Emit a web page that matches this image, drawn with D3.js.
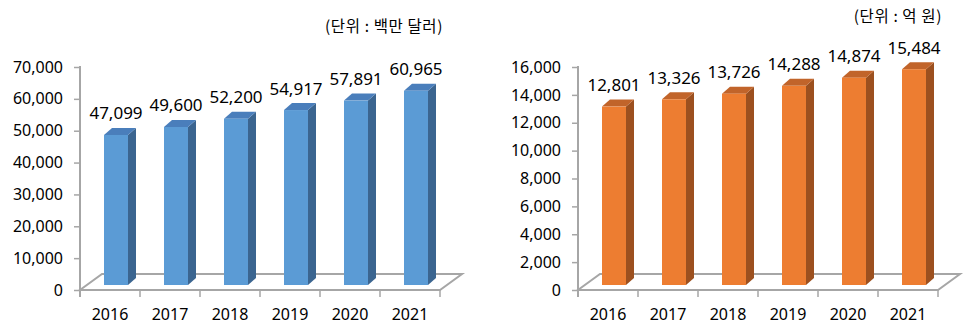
<!DOCTYPE html>
<html>
<head>
<meta charset="utf-8">
<script src="https://cdn.jsdelivr.net/npm/d3@7"></script>
<style>
  html, body { margin: 0; padding: 0; background: #fff; }
  svg { display: block; }
  text { font-family: "Noto Sans", "Open Sans", sans-serif; fill: #000; }
  .unit { font-family: "Noto Sans CJK KR", "Noto Sans", sans-serif; }
</style>
</head>
<body>
<svg id="chart" width="968" height="330"></svg>
<script>
// Years shown on both panels
const years = ["2016", "2017", "2018", "2019", "2020", "2021"];

// Left panel: values in USD millions
const usdValues = [47099, 49600, 52200, 54917, 57891, 60965];
const usdTicks = [0, 10000, 20000, 30000, 40000, 50000, 60000, 70000];
const usdUnit = "(단위 : 백만 달러)";

// Right panel: values in 100 million KRW
const krwValues = [12801, 13326, 13726, 14288, 14874, 15484];
const krwTicks = [0, 2000, 4000, 6000, 8000, 10000, 12000, 14000, 16000];
const krwUnit = "(단위 : 억 원)";

const svg = d3.select("#chart");
const fmt = d3.format(",");

function drawPanel(cfg) {
  const g = svg.append("g");
  const plotW = 360, yBottom = 290, yTop = 67;
  const floorDx = 22, floorDy = -16;     // floor depth offset
  const barDx = 8, barDy = -7;            // bar depth offset
  const barLift = 5;                      // bars stand slightly behind the front edge

  const x = d3.scaleBand().domain(years).range([cfg.left, cfg.left + plotW]);
  const y = d3.scaleLinear().domain([0, d3.max(cfg.ticks)]).range([yBottom, yTop]);
  const bw = x.bandwidth() * 0.4;

  // floor
  const fl = [
    [cfg.left, y(0)], [cfg.left + plotW, y(0)],
    [cfg.left + plotW + floorDx, y(0) + floorDy], [cfg.left + floorDx, y(0) + floorDy]
  ];
  g.append("polygon")
    .attr("points", fl.map(p => p.join(",")).join(" "))
    .attr("fill", "#fff").attr("stroke", "#a6a6a6").attr("stroke-width", 2)
    .attr("stroke-linejoin", "miter");

  // y axis
  const yAxis = d3.axisLeft(y).tickValues(cfg.ticks).tickFormat(fmt).tickSize(6).tickPadding(11);
  const ya = g.append("g").attr("transform", `translate(${cfg.left},0)`).call(yAxis);
  ya.select(".domain").remove();
  ya.selectAll(".tick line").attr("stroke", "#a6a6a6").attr("stroke-width", 1.5);
  ya.selectAll(".tick text").style("font-size", "16px").attr("fill", "#000");
  g.append("line")
    .attr("x1", cfg.left).attr("x2", cfg.left)
    .attr("y1", yTop - 1).attr("y2", yBottom + 7)
    .attr("stroke", "#a6a6a6").attr("stroke-width", 2);

  // category ticks on band boundaries
  const bounds = years.map(d => x(d)).concat([cfg.left + plotW]);
  g.selectAll(".ctick").data(bounds).enter().append("line")
    .attr("x1", d => d).attr("x2", d => d)
    .attr("y1", yBottom).attr("y2", yBottom + 7)
    .attr("stroke", "#a6a6a6").attr("stroke-width", 1.5);

  // year labels
  g.selectAll(".year").data(years).enter().append("text")
    .attr("x", d => x(d) + x.bandwidth() / 2)
    .attr("y", 314)
    .attr("text-anchor", "middle").attr("dominant-baseline", "central")
    .style("font-size", "16px")
    .text(d => d);

  // 3D bars
  const bars = g.selectAll(".bar").data(cfg.values.map((v, i) => ({ v, year: years[i] })))
    .enter().append("g");
  bars.each(function (d) {
    const b = d3.select(this);
    const x0 = x(d.year) + x.bandwidth() * 0.4;
    const x1 = x0 + bw;
    const yb = y(0) - barLift;
    const yt = y(d.v) - barLift;
    // side face
    b.append("polygon")
      .attr("points", [[x1, yb], [x1, yt], [x1 + barDx, yt + barDy], [x1 + barDx, yb + barDy]].map(p => p.join(",")).join(" "))
      .attr("fill", cfg.side);
    // top face
    b.append("polygon")
      .attr("points", [[x0, yt], [x1, yt], [x1 + barDx, yt + barDy], [x0 + barDx, yt + barDy]].map(p => p.join(",")).join(" "))
      .attr("fill", cfg.top);
    // front face
    b.append("rect")
      .attr("x", x0).attr("y", yt).attr("width", bw).attr("height", yb - yt)
      .attr("fill", cfg.front);
    // value label
    b.append("text")
      .attr("x", x0 + bw / 2).attr("y", yt - 22)
      .attr("text-anchor", "middle").attr("dominant-baseline", "central")
      .style("font-size", "17px")
      .text(fmt(d.v));
  });

  // unit caption
  g.append("text").attr("class", "unit")
    .attr("x", cfg.unitX).attr("y", cfg.unitY)
    .attr("text-anchor", "end").attr("dominant-baseline", "central")
    .style("font-size", "15.5px")
    .style("letter-spacing", "0.6px")
    .text(cfg.unit);
}

drawPanel({
  left: 80, values: usdValues, ticks: usdTicks, unit: usdUnit, unitX: 443, unitY: 25,
  front: "#5b9bd5", top: "#4a7ebb", side: "#3b6590"
});
drawPanel({
  left: 578, values: krwValues, ticks: krwTicks, unit: krwUnit, unitX: 942, unitY: 15,
  front: "#ed7d31", top: "#c1642a", side: "#9c501f"
});
</script>
</body>
</html>
